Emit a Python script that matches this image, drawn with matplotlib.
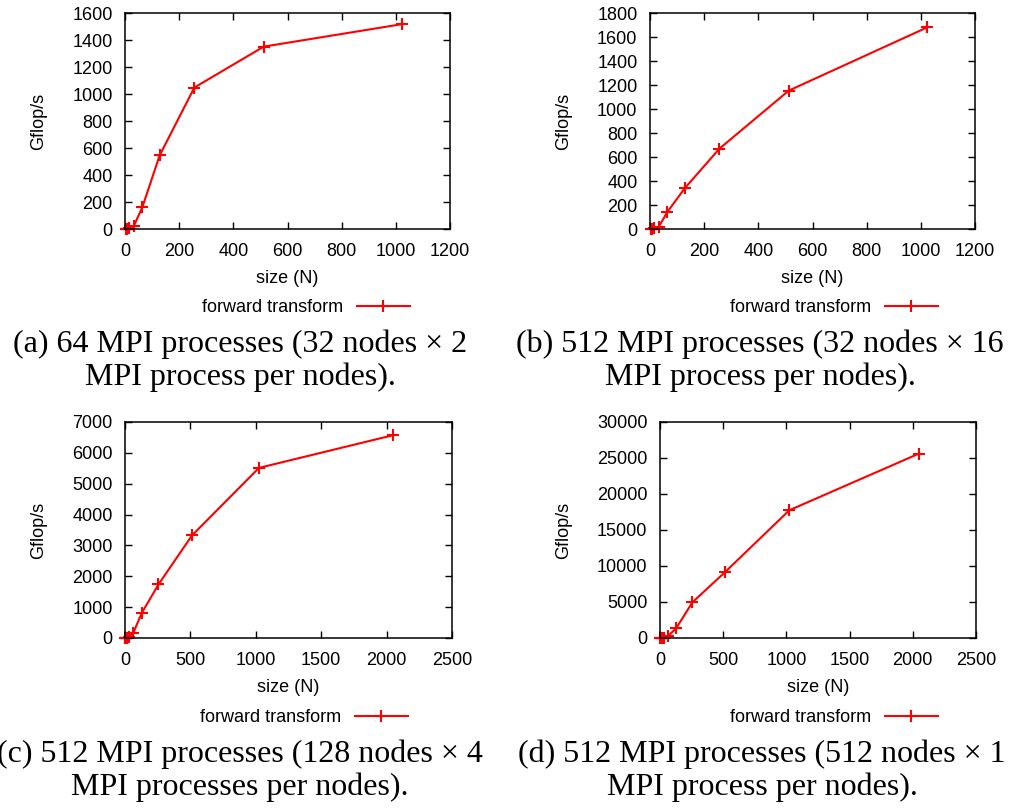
import numpy as np
import matplotlib
matplotlib.use("Agg")
import matplotlib.pyplot as plt

plt.rcParams['font.family'] = ['Liberation Sans', 'DejaVu Sans']

# problem sizes (N) and measured Gflop/s for each run
size_1k = [2, 4, 8, 16, 32, 64, 128, 256, 512, 1024]
size_2k = [2, 4, 8, 16, 32, 64, 128, 256, 512, 1024, 2048]

gflops_a = [0.1, 0.5, 2, 5, 20, 162, 546, 1048, 1351, 1518]
gflops_b = [0.1, 0.5, 2, 5, 17, 142, 339, 669, 1153, 1681]
gflops_c = [0.1, 0.5, 2, 8, 40, 173, 809, 1737, 3322, 5512, 6570]
gflops_d = [0.1, 0.5, 2, 10, 40, 277, 1340, 4945, 9103, 17745, 25600]

captions = [
    "(a) 64 MPI processes (32 nodes \u00d7 2\nMPI process per nodes).",
    "(b) 512 MPI processes (32 nodes \u00d7 16\nMPI process per nodes).",
    "(c) 512 MPI processes (128 nodes \u00d7 4\nMPI processes per nodes).",
    "(d) 512 MPI processes (512 nodes \u00d7 1\nMPI process per nodes).",
]

panels = [
    # x, y, axes rect, xmax, xstep, ymax, ystep, legend centre, caption centre
    (size_1k, gflops_a, [0.1228, 0.7169, 0.3193, 0.267], 1200, 200, 1600, 200, (306, 308), (240, 361)),
    (size_1k, gflops_b, [0.6385, 0.7169, 0.3193, 0.267], 1200, 200, 1800, 200, (834, 308), (760, 361)),
    (size_2k, gflops_c, [0.1228, 0.2114, 0.3212, 0.267], 2500, 500, 7000, 1000, (304, 718), (240, 771)),
    (size_2k, gflops_d, [0.6483, 0.2114, 0.3104, 0.267], 2500, 500, 30000, 5000, (834, 718), (762, 771)),
]

W, H = 1018, 809
fig = plt.figure(figsize=(W / 100, H / 100), dpi=100)

for (x, y, rect, xmax, xstep, ymax, ystep, leg, cap), text in zip(panels, captions):
    ax = fig.add_axes(rect)
    ax.plot(x, y, color='#ff0000', lw=1.5, marker='+', ms=9, mew=1.5,
            clip_on=False, label='forward transform')
    ax.set_xlim(0, xmax)
    ax.set_ylim(0, ymax)
    ax.set_xticks(np.arange(0, xmax + 1, xstep))
    ax.set_yticks(np.arange(0, ymax + 1, ystep))
    ax.tick_params(direction='in', length=5, width=1, labelsize=13,
                   top=True, right=True, pad=9)
    ax.tick_params(axis='x', pad=10)
    for s in ax.spines.values():
        s.set_linewidth(1.1)
    ax.set_xlabel('size (N)', fontsize=13, labelpad=7)
    ax.set_ylabel('Gflop/s', fontsize=13, labelpad=18)
    ax.legend(loc='center', bbox_to_anchor=(leg[0] / W, 1 - leg[1] / H),
              bbox_transform=fig.transFigure, frameon=False, fontsize=13,
              markerfirst=False, handlelength=2.9, handletextpad=0.75,
              borderpad=0, borderaxespad=0)
    fig.text(cap[0] / W, 1 - cap[1] / H, text, ha='center', va='center',
             ma='center', fontsize=23, family='Liberation Serif', linespacing=1.17)

fig.savefig('out.png', dpi=100)
